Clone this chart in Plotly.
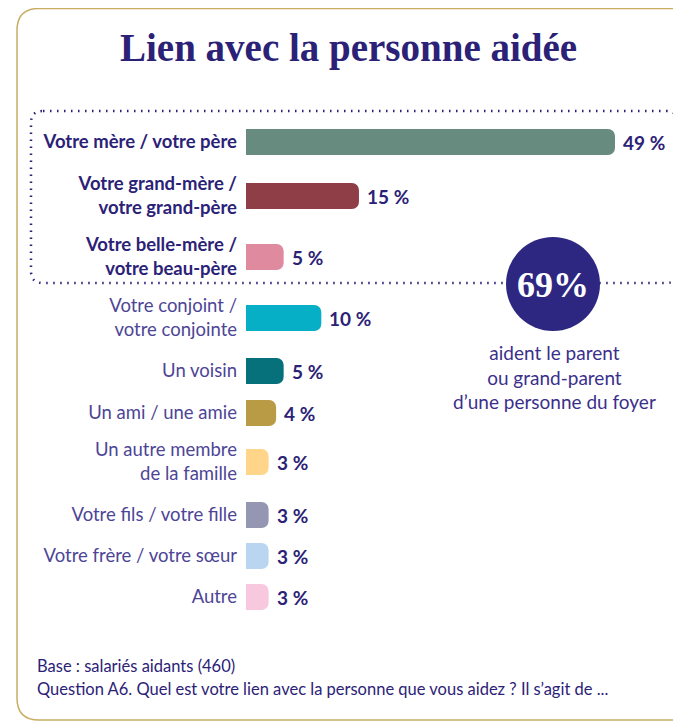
import plotly.graph_objects as go

# ---------------- data ----------------
categories = [
    "Votre mère / votre père",
    "Votre grand-mère /<br>votre grand-père",
    "Votre belle-mère /<br>votre beau-père",
    "Votre conjoint /<br>votre conjointe",
    "Un voisin",
    "Un ami / une amie",
    "Un autre membre<br>de la famille",
    "Votre fils / votre fille",
    "Votre frère / votre sœur",
    "Autre",
]
values = [49, 15, 5, 10, 5, 4, 3, 3, 3, 3]
highlighted = [True, True, True, False, False, False, False, False, False, False]
highlight_total = "69%"
highlight_caption = "aident le parent<br>ou grand-parent<br>d’une personne du foyer"
title_text = "Lien avec la personne aidée"
footer_lines = ["Base : salariés aidants (460)",
                "Question A6. Quel est votre lien avec la personne que vous aidez ? Il s’agit de ..."]

# ---------------- styles / layout ----------------
bar_colors = ["#678b7e", "#8f3d47", "#e08aa0", "#07afc6", "#06707b",
              "#b99a45", "#ffd58a", "#9496b2", "#b9d5f0", "#f8c8de"]
row_pos = [142, 196, 257, 318, 371, 413, 462, 515, 556, 597]  # row centres (screen px from top)

OFF = 8                      # page body margin
W, H = 681 - OFF, 723 - OFF  # figure size
DARK = "#2b2277"
LIGHT = "#4d4596"
GOLD = "#c9ad62"
FONT = "Lato"

def px(x):
    return (x - OFF) / W

def py(y):
    return 1 - (y - OFF) / H

def rounded_rect(x0, y0, x1, y1, r):
    X0, X1 = px(x0), px(x1)
    Y0, Y1 = py(y0), py(y1)
    rx, ry = r / W, r / H
    return (f"M {X0+rx},{Y0} L {X1-rx},{Y0} Q {X1},{Y0} {X1},{Y0-ry} "
            f"L {X1},{Y1+ry} Q {X1},{Y1} {X1-rx},{Y1} "
            f"L {X0+rx},{Y1} Q {X0},{Y1} {X0},{Y1+ry} "
            f"L {X0},{Y0-ry} Q {X0},{Y0} {X0+rx},{Y0} Z")

ticktext = []
for c, h in zip(categories, highlighted):
    if h:
        ticktext.append(f"<b><span style='color:{DARK}'>{c}</span></b>")
    else:
        ticktext.append(f"<span style='color:{LIGHT}'>{c}</span>")

fig = go.Figure()
fig.add_trace(go.Bar(
    x=values, y=row_pos, orientation="h", width=26,
    marker=dict(color=bar_colors, cornerradius=7, line=dict(width=0)),
    hoverinfo="skip", showlegend=False,
))

annotations = []
for v, y in zip(values, row_pos):
    annotations.append(dict(x=v, y=y, xref="x", yref="y", text=f"<b>{v} %</b>",
                            showarrow=False, xanchor="left", xshift=6,
                            font=dict(family=FONT, size=19, color=DARK)))

annotations.append(dict(x=px(348), y=py(48), xref="paper", yref="paper", text=f"<b>{title_text}</b>",
                        showarrow=False, xanchor="center", yanchor="middle",
                        font=dict(family="Liberation Serif", size=39, color=DARK)))
annotations.append(dict(x=px(553), y=py(285), xref="paper", yref="paper",
                        text=f"<b>{highlight_total}</b>", showarrow=False,
                        xanchor="center", yanchor="middle",
                        font=dict(family="Liberation Serif", size=36, color="white")))
annotations.append(dict(x=px(554), y=py(377), xref="paper", yref="paper",
                        text=highlight_caption, showarrow=False,
                        xanchor="center", yanchor="middle", align="center",
                        font=dict(family=FONT, size=19, color="#3b2f8c")))
for i, line in enumerate(footer_lines):
    annotations.append(dict(x=px(35), y=py(666 + 23 * i), xref="paper", yref="paper",
                            text=line, showarrow=False,
                            xanchor="left", yanchor="middle", align="left",
                            font=dict(family=FONT, size=16.5, color=DARK)))

shapes = [
    dict(type="path", xref="paper", yref="paper", path=rounded_rect(17, 8.5, 702, 720, 22),
         line=dict(color=GOLD, width=1.5), layer="below"),
    dict(type="path", xref="paper", yref="paper", path=rounded_rect(31, 111, 678, 283, 12),
         line=dict(color=DARK, width=2.5, dash="1.5px,5.5px"), layer="above"),
    dict(type="circle", xref="paper", yref="paper",
         x0=px(506), x1=px(600), y0=py(331), y1=py(237),
         fillcolor="#2e2782", line=dict(width=0), layer="above"),
]

x_start = 246
px_per_unit = (615 - 246) / 49
fig.update_layout(
    width=W, height=H,
    margin=dict(l=0, r=0, t=0, b=0),
    paper_bgcolor="white", plot_bgcolor="rgba(0,0,0,0)",
    xaxis=dict(domain=[px(x_start), 1], range=[0, (W + OFF - x_start) / px_per_unit],
               visible=False, fixedrange=True),
    yaxis=dict(domain=[0, 1], range=[H + OFF, OFF], tickmode="array", tickvals=row_pos,
               ticktext=ticktext, ticks="", showgrid=False, zeroline=False,
               showline=False, ticklabelstandoff=8,
               tickfont=dict(family=FONT, size=18.5, color=LIGHT), fixedrange=True),
    annotations=annotations,
    shapes=shapes,
    font=dict(family=FONT),
)

fig.write_html("out.html")
